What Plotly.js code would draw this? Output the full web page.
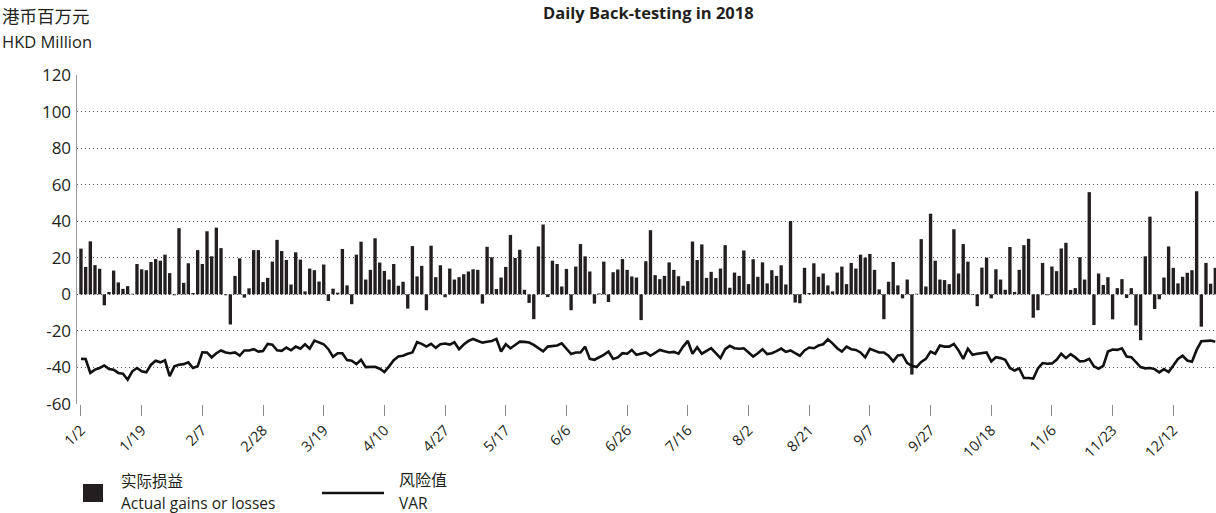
<!DOCTYPE html>
<html>
<head>
<meta charset="utf-8">
<script src="https://cdn.plot.ly/plotly-3.0.1.min.js"></script>
<style>html,body{margin:0;padding:0;background:#fff;overflow:hidden}#chart{width:1216px;height:513px}</style>
</head>
<body>
<div id="chart"></div>
<script>
// HK trading days of 2018 (day numbers per month)
const jan = [2,3,4,5,8,9,10,11,12,15,16,17,18,19,22,23,24,25,26,29,30,31];
const feb = [1,2,5,6,7,8,9,12,13,14,15,20,21,22,23,26,27,28];
const mar = [1,2,5,6,7,8,9,12,13,14,15,16,19,20,21,22,23,26,27,28,29];
const apr = [3,4,6,9,10,11,12,13,16,17,18,19,20,23,24,25,26,27,30];
const may = [2,3,4,7,8,9,10,11,14,15,16,17,18,21,23,24,25,28,29,30,31];
const jun = [1,4,5,6,7,8,11,12,13,14,15,19,20,21,22,25,26,27,28,29];
const jul = [3,4,5,6,9,10,11,12,13,16,17,18,19,20,23,24,25,26,27,30,31];
const aug = [1,2,3,6,7,8,9,10,13,14,15,16,17,20,21,22,23,24,27,28,29,30,31];
const sep = [3,4,5,6,7,10,11,12,13,14,17,18,19,20,21,24,26,27,28];
const oct = [2,3,4,5,8,9,10,11,12,15,16,18,19,22,23,24,25,26,29,30,31];
const nov = [1,2,5,6,7,8,9,12,13,14,15,16,19,20,21,22,23,26,27,28,29,30];
const dec = [3,4,5,6,7,10,11,12,13,14,17,18,19,20,21,24,27];

// Actual gains or losses (HKD million)
const gains = [
25,15,29,16,14,-6,1.3,13,6.5,3,4.5,0.3,16.6,13.7,13.2,17.7,19.3,18.4,21.7,11.6,
-0.5,36.2,6.3,17,0.7,24.2,16.6,34.5,20.8,36.5,25.3,-0.5,-16.5,10.1,19.7,-1.8,3.3,24.2,24.2,6.7,
9,17.9,29.8,23.7,18.8,5.4,23,19,1.6,14.1,13.2,7,16.3,-3.6,3.1,0.9,24.8,4.9,-5.4,21.7,
28.8,8.1,13.4,30.7,17.4,12.8,8.1,16.6,4.7,6.9,-7.8,26.4,9.8,15.6,-8.7,26.6,9.4,15.9,-1.6,14.1,
8.1,9.4,11,12.5,13.7,13.4,-5.1,26,20.3,2.9,9.2,15,32.5,19.9,24.4,2.5,-4.7,-13.6,26.2,38.2,
-1.5,18.4,16.6,4.3,13.9,-8.7,15.2,27.5,20.8,12.5,-5.1,0.5,17.9,-4.2,12.1,13.6,19.3,13.4,9.8,9.2,
-14.1,18.1,35.1,10.5,8.3,10.1,17.5,13.4,9.9,4.7,7.2,28.9,18.8,27.3,9,12.3,8.9,14.1,26.9,3.6,
11.9,10.1,24,5.6,19.2,9.6,17.5,6,13.2,10.1,15.9,5.4,40.1,-4.5,-4.9,14.5,0.7,17,9.6,11.4,
4.9,1.6,11.9,15.2,5.6,17.2,14.1,21.7,20.1,22.1,13.4,2.7,-13.6,6.9,17.7,4.9,-2.2,8.1,-43.9,0.3,
30.2,4.3,44.1,18.4,8.1,7.8,5.6,35.6,11.4,27.5,17.9,-0.3,-6.5,14.6,20.1,-2.2,13.7,8.1,2.5,25.9,
1.3,13.4,26.9,30.4,-12.8,-8.7,17.2,-0.5,15.2,12.7,25.1,28.2,2.4,3.4,20.3,8.1,55.9,-16.8,11.4,5.1,
9.4,-13.7,3.4,8.3,-2,3.4,-17,-25.1,20.8,42.5,-8,-2.7,9.2,26.2,14.5,6,9.6,11.8,13.2,56.4,
-17.7,17.2,5.8,14.5
];

// VAR (HKD million)
const varValues = [
-35.3,-35.4,-43,-41.2,-40.3,-38.9,-40.9,-41.2,-43,-43.4,-46.7,-42.1,-40.3,-42.1,-42.7,-38.5,-36.3,-37.2,-36.1,-44.8,
-39.4,-38.5,-38.2,-37.2,-40.3,-39.4,-31.7,-31.8,-34.5,-32.2,-30.7,-31.8,-32.2,-31.8,-33.5,-30.7,-30.7,-30,-31.3,-31,
-27.1,-27.5,-30.6,-30.9,-29.1,-30.6,-28.6,-29.8,-27.3,-29.7,-25.3,-26.2,-27.3,-30,-34.2,-32.2,-32.2,-36,-36.3,-38.2,
-35.8,-39.8,-39.6,-39.6,-40.7,-42.5,-39.4,-36,-34,-33.6,-32.5,-31.8,-26.2,-27.1,-28.6,-27.1,-29.3,-27.3,-26.9,-27.5,
-26.2,-30,-27.5,-25.5,-24.4,-25.5,-26.4,-25.9,-25.5,-24.4,-31.3,-27.3,-29.5,-27.7,-25.9,-26,-26.4,-27.7,-29.5,-31.2,
-28.6,-28.2,-28,-26.8,-29.5,-32.7,-31.8,-31.8,-28.6,-35.3,-35.8,-34.5,-33.1,-31.3,-35.4,-34.5,-32.2,-32.5,-30.4,-33.1,
-32.5,-31.8,-33.6,-32.2,-30.4,-31.1,-31.8,-31.5,-32.5,-28.6,-25.5,-32.5,-28.9,-32.5,-31.1,-29.5,-32.2,-34.9,-30,-28.2,
-29.5,-29.8,-29.5,-31.8,-34,-32.2,-30,-32.7,-32.2,-31.1,-29.7,-31.5,-30.7,-32.2,-33.6,-30.7,-29.1,-29.5,-28,-27.3,
-24.6,-26.8,-29.5,-31.3,-28.6,-30,-30.4,-31.8,-34.5,-29.8,-30.7,-31.8,-31.8,-33.6,-36.7,-33.5,-33.1,-37.6,-39.1,-39.8,
-37,-35.3,-31.3,-32.5,-28,-28.6,-28.6,-27.1,-30.7,-35.3,-29.8,-33.1,-32.5,-32.2,-31.8,-36.7,-34.4,-34.9,-35.8,-40.3,
-41.7,-40.5,-45.8,-45.8,-46.1,-40.5,-37.6,-38,-37.8,-35.8,-32.5,-34.9,-32.7,-34.5,-36.7,-36.5,-35.3,-39.4,-40.7,-39.1,
-31.3,-30.2,-30.4,-29.5,-34,-34.4,-37.3,-39.8,-40.5,-40.3,-40.9,-42.7,-40.9,-42.5,-38.9,-35.4,-33.6,-36.2,-36.9,-30.4,
-25.7,-25.7,-25.3,-25.9
];

const tickLabels = ['1/2','1/19','2/7','2/28','3/19','4/10','4/27','5/17','6/6','6/26','7/16','8/2','8/21','9/7','9/27','10/18','11/6','11/23','12/12'];
const yTicks = [120,100,80,60,40,20,0,-20,-40,-60];

const months = [jan,feb,mar,apr,may,jun,jul,aug,sep,oct,nov,dec];
const dates = [];
months.forEach((m, mi) => m.forEach(d => dates.push((mi+1) + '/' + d)));
const cats = dates.slice(0, gains.length);

const FONT = "'Open Sans', 'Noto Sans CJK SC', sans-serif";
const CJK = "'Noto Sans CJK SC', 'Open Sans', sans-serif";
const INK = '#231f20';

// pixel helpers for paper placement
const L = 77, T = 75, W = 1139, H = 329;
const px = v => (v - L) / W;
const py = v => (T + H - v) / H;

const traces = [
  {type:'bar', x:cats, y:gains, marker:{color:INK}, hoverinfo:'x+y', showlegend:false},
  {type:'scatter', mode:'lines', x:cats, y:varValues.slice(0, cats.length), line:{color:'#111', width:2.6}, showlegend:false}
];

const ann = (text, x, y, size, family, anchor) => ({text, xref:'paper', yref:'paper', x:px(x), y:py(y),
  xanchor:anchor || 'left', yanchor:'middle', showarrow:false, font:{size, family, color:INK}});

const layout = {
  width:1216, height:513,
  margin:{l:L, r:1216-L-W, t:T, b:513-T-H, pad:0},
  paper_bgcolor:'#fff', plot_bgcolor:'#fff',
  font:{family:FONT, color:INK, size:14},
  bargap:0.28,
  xaxis:{type:'category', range:[-0.85, cats.length-0.85], tickmode:'array', tickvals:tickLabels, ticktext:tickLabels,
         tickangle:-45, ticks:'outside', ticklen:11, tickcolor:'#8a8a8a', tickwidth:1,
         showgrid:false, showline:false, zeroline:false, tickfont:{size:14.5, family:FONT, color:INK}},
  yaxis:{range:[-60,120], tickmode:'array', tickvals:yTicks, ticktext:yTicks.map(String),
         showgrid:true, gridcolor:'#5a5a5a', griddash:'1px,3px', gridwidth:1.1, zeroline:false,
         showline:true, linecolor:'#9a9a9a', linewidth:1.5, ticks:'', ticklabelstandoff:1,
         tickfont:{size:17, family:FONT, color:INK}},
  shapes:[
    {type:'rect', xref:'paper', yref:'paper', x0:px(83), x1:px(103), y0:py(502), y1:py(484), fillcolor:INK, line:{width:0}},
    {type:'line', xref:'paper', yref:'paper', x0:px(322), x1:px(384), y0:py(493), y1:py(493), line:{color:'#111', width:2.6}}
  ],
  annotations:[
    ann('<b>Daily Back-testing in 2018</b>', 648, 12, 16.5, FONT, 'center'),
    ann('港币百万元', 0, 16, 17.5, CJK),
    ann('HKD Million', 0, 41, 16.5, FONT),
    ann('实际损益', 119, 480, 15.5, CJK),
    ann('Actual gains or losses', 119, 503, 15.5, FONT),
    ann('风险值', 397, 479, 16, CJK),
    ann('VAR', 397, 503, 15.5, FONT)
  ]
};

Plotly.newPlot('chart', traces, layout, {staticPlot:true, displayModeBar:false});
</script>
</body>
</html>
